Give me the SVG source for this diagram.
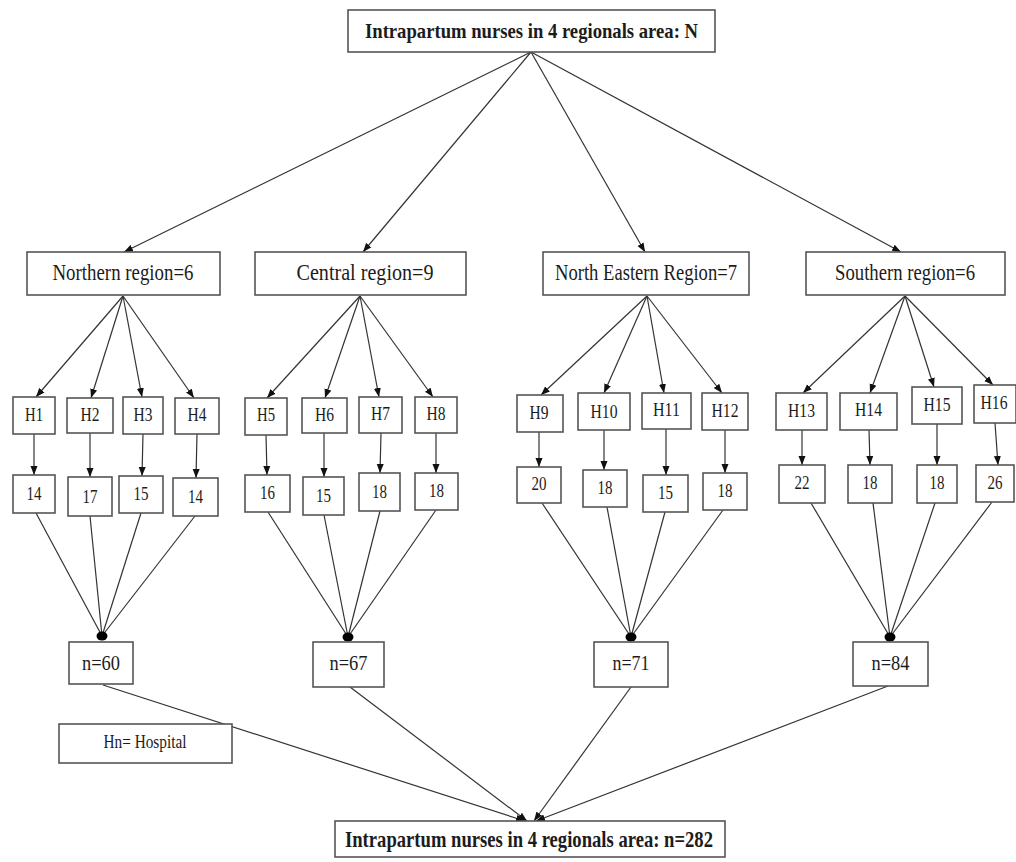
<svg xmlns="http://www.w3.org/2000/svg" width="1016" height="862" viewBox="0 0 1016 862">
  <style>
    .box { fill: #ffffff; stroke: #555555; stroke-width: 1.6; }
    .t { font-family: "Liberation Serif", "Times New Roman", serif; fill: #1c1c1c; text-anchor: middle; }
    .b { font-weight: bold; }
    .ln { stroke: #333333; stroke-width: 1.2; fill: none; }
    .arr { marker-end: url(#ah); }
    .dot { fill: #000000; }
  </style>
  <defs>
    <marker id="ah" markerUnits="userSpaceOnUse" markerWidth="10" markerHeight="8" refX="9" refY="4" orient="auto">
      <path d="M0,0.5 L9,4 L0,7.5 Z" fill="#111111"/>
    </marker>
  </defs>

  <!-- connectors -->
  <g id="connectors">
    <!-- total to regions -->
    <line class="ln arr" x1="531" y1="52" x2="124" y2="252"/>
    <line class="ln arr" x1="531" y1="52" x2="363" y2="252"/>
    <line class="ln arr" x1="531" y1="52" x2="645" y2="252"/>
    <line class="ln arr" x1="531" y1="52" x2="901" y2="252"/>
    <!-- regions to hospitals -->
    <line class="ln arr" x1="123" y1="296" x2="36" y2="397"/>
    <line class="ln arr" x1="123" y1="296" x2="91" y2="398"/>
    <line class="ln arr" x1="123" y1="296" x2="142" y2="397"/>
    <line class="ln arr" x1="123" y1="296" x2="194" y2="398"/>
    <line class="ln arr" x1="360" y1="296" x2="267" y2="398"/>
    <line class="ln arr" x1="360" y1="296" x2="325" y2="398"/>
    <line class="ln arr" x1="360" y1="296" x2="379" y2="397"/>
    <line class="ln arr" x1="360" y1="296" x2="433" y2="397"/>
    <line class="ln arr" x1="647" y1="296" x2="541" y2="395"/>
    <line class="ln arr" x1="647" y1="296" x2="604" y2="393"/>
    <line class="ln arr" x1="647" y1="296" x2="664" y2="393"/>
    <line class="ln arr" x1="647" y1="296" x2="722" y2="393"/>
    <line class="ln arr" x1="905" y1="296" x2="803" y2="393"/>
    <line class="ln arr" x1="905" y1="296" x2="870" y2="393"/>
    <line class="ln arr" x1="905" y1="296" x2="934" y2="387"/>
    <line class="ln arr" x1="905" y1="296" x2="993" y2="385"/>
    <!-- hospitals to counts -->
    <line class="ln arr" x1="34" y1="434" x2="34" y2="475"/>
    <line class="ln arr" x1="90" y1="433" x2="90" y2="477"/>
    <line class="ln arr" x1="143" y1="434" x2="142" y2="476"/>
    <line class="ln arr" x1="197" y1="434" x2="196" y2="478"/>
    <line class="ln arr" x1="266" y1="435" x2="267" y2="475"/>
    <line class="ln arr" x1="324" y1="433" x2="324" y2="477"/>
    <line class="ln arr" x1="381" y1="433" x2="380" y2="473"/>
    <line class="ln arr" x1="436" y1="433" x2="436" y2="473"/>
    <line class="ln arr" x1="539" y1="432" x2="539" y2="467"/>
    <line class="ln arr" x1="604" y1="430" x2="604" y2="470"/>
    <line class="ln arr" x1="666" y1="429" x2="666" y2="475"/>
    <line class="ln arr" x1="725" y1="430" x2="725" y2="473"/>
    <line class="ln arr" x1="802" y1="430" x2="802" y2="465"/>
    <line class="ln arr" x1="869" y1="430" x2="870" y2="465"/>
    <line class="ln arr" x1="937" y1="424" x2="937" y2="465"/>
    <line class="ln arr" x1="995" y1="423" x2="998" y2="465"/>
    <!-- counts to regional totals -->
    <line class="ln" x1="36" y1="513" x2="102" y2="636"/>
    <line class="ln" x1="90" y1="516" x2="102" y2="636"/>
    <line class="ln" x1="141" y1="513" x2="102" y2="636"/>
    <line class="ln" x1="195" y1="516" x2="102" y2="636"/>
    <line class="ln" x1="268" y1="512" x2="348" y2="637"/>
    <line class="ln" x1="324" y1="515" x2="348" y2="637"/>
    <line class="ln" x1="380" y1="511" x2="348" y2="637"/>
    <line class="ln" x1="436" y1="510" x2="348" y2="637"/>
    <line class="ln" x1="542" y1="503" x2="631" y2="637"/>
    <line class="ln" x1="607" y1="507" x2="631" y2="637"/>
    <line class="ln" x1="665" y1="512" x2="631" y2="637"/>
    <line class="ln" x1="723" y1="510" x2="631" y2="637"/>
    <line class="ln" x1="811" y1="503" x2="890" y2="637"/>
    <line class="ln" x1="873" y1="503" x2="890" y2="637"/>
    <line class="ln" x1="935" y1="503" x2="890" y2="637"/>
    <line class="ln" x1="992" y1="502" x2="890" y2="637"/>
    <ellipse class="dot" cx="102" cy="636" rx="5.5" ry="4.5"/>
    <ellipse class="dot" cx="348" cy="637" rx="5.5" ry="4.5"/>
    <ellipse class="dot" cx="631" cy="637" rx="5.5" ry="4.5"/>
    <ellipse class="dot" cx="890" cy="637" rx="5.5" ry="4.5"/>
    <!-- regional totals to overall total -->
    <line class="ln arr" x1="103" y1="685" x2="525" y2="821"/>
    <line class="ln arr" x1="350" y1="687" x2="527" y2="821"/>
    <line class="ln arr" x1="631" y1="687" x2="534" y2="821"/>
    <line class="ln arr" x1="888" y1="686" x2="536" y2="821"/>
  </g>

  <g id="total-N">
    <rect class="box" x="348" y="10" width="367" height="42"/>
    <text class="t b" x="531.5" y="38" font-size="21" textLength="333" lengthAdjust="spacingAndGlyphs">Intrapartum nurses in 4 regionals area: N</text>
  </g>

  <g id="region-northern">
    <rect class="box" x="27" y="252" width="193" height="43"/>
    <text class="t" x="123" y="280" font-size="23" textLength="141" lengthAdjust="spacingAndGlyphs">Northern region=6</text>
  </g>
  <g id="region-central">
    <rect class="box" x="255" y="252" width="211" height="43"/>
    <text class="t" x="365" y="280" font-size="23" textLength="137" lengthAdjust="spacingAndGlyphs">Central region=9</text>
  </g>
  <g id="region-north-eastern">
    <rect class="box" x="543" y="252" width="206" height="43"/>
    <text class="t" x="646" y="280" font-size="23" textLength="182" lengthAdjust="spacingAndGlyphs">North Eastern Region=7</text>
  </g>
  <g id="region-southern">
    <rect class="box" x="806" y="252" width="199" height="43"/>
    <text class="t" x="905" y="280" font-size="23" textLength="140" lengthAdjust="spacingAndGlyphs">Southern region=6</text>
  </g>

  <!-- hospitals -->
  <g id="h1"><rect class="box" x="13" y="397" width="42" height="37"/><text class="t" x="34" y="421" font-size="19" textLength="18" lengthAdjust="spacingAndGlyphs">H1</text></g>
  <g id="h2"><rect class="box" x="67" y="398" width="46" height="35"/><text class="t" x="90" y="421" font-size="19" textLength="19" lengthAdjust="spacingAndGlyphs">H2</text></g>
  <g id="h3"><rect class="box" x="123" y="397" width="40" height="37"/><text class="t" x="143" y="421" font-size="19" textLength="19" lengthAdjust="spacingAndGlyphs">H3</text></g>
  <g id="h4"><rect class="box" x="175" y="398" width="44" height="36"/><text class="t" x="197" y="421" font-size="19" textLength="19" lengthAdjust="spacingAndGlyphs">H4</text></g>
  <g id="h5"><rect class="box" x="245" y="398" width="42" height="37"/><text class="t" x="266" y="421" font-size="19" textLength="18" lengthAdjust="spacingAndGlyphs">H5</text></g>
  <g id="h6"><rect class="box" x="302" y="398" width="45" height="35"/><text class="t" x="324.5" y="421" font-size="19" textLength="19" lengthAdjust="spacingAndGlyphs">H6</text></g>
  <g id="h7"><rect class="box" x="359" y="397" width="43" height="36"/><text class="t" x="380.5" y="420" font-size="19" textLength="19" lengthAdjust="spacingAndGlyphs">H7</text></g>
  <g id="h8"><rect class="box" x="415" y="397" width="42" height="36"/><text class="t" x="436" y="420" font-size="19" textLength="19" lengthAdjust="spacingAndGlyphs">H8</text></g>
  <g id="h9"><rect class="box" x="517" y="395" width="46" height="37"/><text class="t" x="539" y="419" font-size="19" textLength="19" lengthAdjust="spacingAndGlyphs">H9</text></g>
  <g id="h10"><rect class="box" x="578" y="393" width="52" height="37"/><text class="t" x="604" y="418" font-size="19" textLength="27" lengthAdjust="spacingAndGlyphs">H10</text></g>
  <g id="h11"><rect class="box" x="642" y="393" width="49" height="36"/><text class="t" x="666.5" y="416" font-size="19" textLength="27" lengthAdjust="spacingAndGlyphs">H11</text></g>
  <g id="h12"><rect class="box" x="702" y="393" width="46" height="37"/><text class="t" x="725" y="417" font-size="19" textLength="27" lengthAdjust="spacingAndGlyphs">H12</text></g>
  <g id="h13"><rect class="box" x="776" y="393" width="51" height="37"/><text class="t" x="801.5" y="417" font-size="19" textLength="27" lengthAdjust="spacingAndGlyphs">H13</text></g>
  <g id="h14"><rect class="box" x="840" y="393" width="57" height="37"/><text class="t" x="868.5" y="416" font-size="19" textLength="27" lengthAdjust="spacingAndGlyphs">H14</text></g>
  <g id="h15"><rect class="box" x="912" y="387" width="50" height="37"/><text class="t" x="937" y="411" font-size="19" textLength="27" lengthAdjust="spacingAndGlyphs">H15</text></g>
  <g id="h16"><rect class="box" x="974" y="385" width="42" height="38"/><text class="t" x="994" y="409" font-size="19" textLength="27" lengthAdjust="spacingAndGlyphs">H16</text></g>

  <!-- nurse counts per hospital -->
  <g id="c1"><rect class="box" x="13" y="475" width="42" height="38"/><text class="t" x="34" y="500" font-size="19" textLength="15" lengthAdjust="spacingAndGlyphs">14</text></g>
  <g id="c2"><rect class="box" x="68" y="477" width="44" height="39"/><text class="t" x="90" y="503" font-size="19" textLength="15" lengthAdjust="spacingAndGlyphs">17</text></g>
  <g id="c3"><rect class="box" x="119" y="476" width="44" height="37"/><text class="t" x="141" y="500" font-size="19" textLength="15" lengthAdjust="spacingAndGlyphs">15</text></g>
  <g id="c4"><rect class="box" x="173" y="478" width="45" height="38"/><text class="t" x="195.5" y="503" font-size="19" textLength="15" lengthAdjust="spacingAndGlyphs">14</text></g>
  <g id="c5"><rect class="box" x="245" y="475" width="45" height="37"/><text class="t" x="267.5" y="499" font-size="19" textLength="15" lengthAdjust="spacingAndGlyphs">16</text></g>
  <g id="c6"><rect class="box" x="303" y="477" width="41" height="38"/><text class="t" x="323.5" y="502" font-size="19" textLength="15" lengthAdjust="spacingAndGlyphs">15</text></g>
  <g id="c7"><rect class="box" x="359" y="473" width="41" height="38"/><text class="t" x="379.5" y="498" font-size="19" textLength="15" lengthAdjust="spacingAndGlyphs">18</text></g>
  <g id="c8"><rect class="box" x="415" y="473" width="43" height="37"/><text class="t" x="436.5" y="497" font-size="19" textLength="15" lengthAdjust="spacingAndGlyphs">18</text></g>
  <g id="c9"><rect class="box" x="517" y="467" width="44" height="36"/><text class="t" x="539" y="490" font-size="19" textLength="15" lengthAdjust="spacingAndGlyphs">20</text></g>
  <g id="c10"><rect class="box" x="583" y="470" width="44" height="37"/><text class="t" x="605" y="494" font-size="19" textLength="15" lengthAdjust="spacingAndGlyphs">18</text></g>
  <g id="c11"><rect class="box" x="643" y="475" width="45" height="37"/><text class="t" x="665.5" y="499" font-size="19" textLength="15" lengthAdjust="spacingAndGlyphs">15</text></g>
  <g id="c12"><rect class="box" x="703" y="473" width="44" height="37"/><text class="t" x="725" y="497" font-size="19" textLength="15" lengthAdjust="spacingAndGlyphs">18</text></g>
  <g id="c13"><rect class="box" x="779" y="465" width="46" height="38"/><text class="t" x="802" y="489" font-size="19" textLength="15" lengthAdjust="spacingAndGlyphs">22</text></g>
  <g id="c14"><rect class="box" x="848" y="465" width="44" height="38"/><text class="t" x="870" y="489" font-size="19" textLength="15" lengthAdjust="spacingAndGlyphs">18</text></g>
  <g id="c15"><rect class="box" x="917" y="465" width="40" height="38"/><text class="t" x="937" y="489" font-size="19" textLength="15" lengthAdjust="spacingAndGlyphs">18</text></g>
  <g id="c16"><rect class="box" x="976" y="465" width="38" height="37"/><text class="t" x="995" y="489" font-size="19" textLength="15" lengthAdjust="spacingAndGlyphs">26</text></g>

  <!-- regional totals -->
  <g id="n60"><rect class="box" x="69" y="642" width="64" height="42"/><text class="t" x="101" y="670" font-size="22" textLength="38" lengthAdjust="spacingAndGlyphs">n=60</text></g>
  <g id="n67"><rect class="box" x="313" y="642" width="71" height="45"/><text class="t" x="348.5" y="670" font-size="22" textLength="38" lengthAdjust="spacingAndGlyphs">n=67</text></g>
  <g id="n71"><rect class="box" x="594" y="642" width="74" height="45"/><text class="t" x="631" y="670" font-size="22" textLength="37" lengthAdjust="spacingAndGlyphs">n=71</text></g>
  <g id="n84"><rect class="box" x="853" y="642" width="75" height="44"/><text class="t" x="890.5" y="670" font-size="22" textLength="38" lengthAdjust="spacingAndGlyphs">n=84</text></g>

  <g id="legend">
    <rect class="box" x="59" y="724" width="173" height="39"/>
    <text class="t" x="145" y="748" font-size="18" textLength="83" lengthAdjust="spacingAndGlyphs">Hn= Hospital</text>
  </g>

  <g id="total-n282">
    <rect class="box" x="335" y="821" width="390" height="36"/>
    <text class="t b" x="529" y="847" font-size="23" textLength="368" lengthAdjust="spacingAndGlyphs">Intrapartum nurses in 4 regionals area: n=282</text>
  </g>
</svg>
